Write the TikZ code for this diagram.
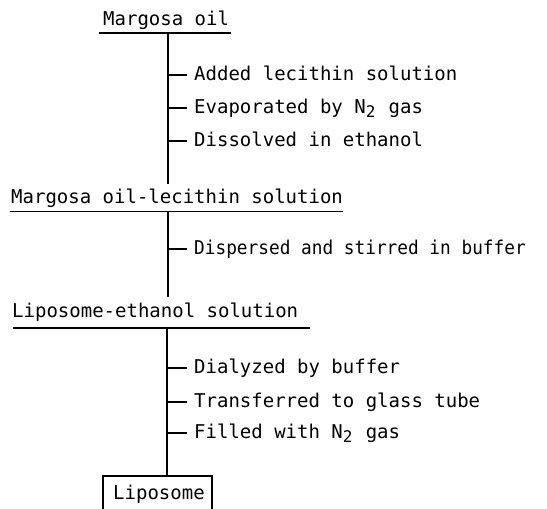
\documentclass[tikz,border=0pt]{standalone}
\usepackage{fontspec}
\newfontfamily\tw{DejaVu Sans Mono}
\newcommand{\Nsub}{N\raisebox{-4.5pt}{\fontsize{16}{16}\selectfont 2}\hspace{1.8pt}}
\begin{document}
\begin{tikzpicture}[x=1pt,y=-1pt,
  lbl/.style={inner sep=0pt,font=\tw\fontsize{19}{22}\selectfont},
  title/.style={lbl,anchor=base west},
  stepnode/.style={lbl,anchor=west,text height=10.4pt,text depth=0pt},
  ln/.style={line width=1.4pt},
  ul/.style={line width=1.6pt}]
\useasboundingbox (0,0) rectangle (547,509);
% titles
\node[title] (m1) at (103,25) {Margosa oil};
\node[title] (m2) at (11,203) {Margosa oil-lecithin solution};
\node[title] (m3) at (12,317) {Liposome-ethanol solution};
\node[lbl,anchor=base west] (lip) at (113,499) {Liposome};
% underlines
\coordinate (u1l) at (99,33);  \coordinate (u1r) at (231,33);
\coordinate (u2l) at (10,211.5); \coordinate (u2r) at (343,211.5);
\coordinate (u3l) at (13,328); \coordinate (u3r) at (310,328);
\draw[ul] (u1l) -- (u1r);
\draw[ul] (u2l) -- (u2r);
\draw[ul] (u3l) -- (u3r);
% box
\coordinate (bxl) at (103,476); \coordinate (bxr) at (212,520);
\draw[ln] (bxl) rectangle (bxr);
% trunks
\coordinate (t1a) at (168,33);  \coordinate (t1b) at (168,184);
\coordinate (t2a) at (168,211.5); \coordinate (t2b) at (168,297);
\coordinate (t3a) at (167,328); \coordinate (t3b) at (167,476);
\draw[ln] (t1a) -- (t1b);
\draw[ln] (t2a) -- (t2b);
\draw[ln] (t3a) -- (t3b);
% steps
\node[stepnode] (s1) at (194,75) {Added lecithin solution};
\node[stepnode] (s2) at (194,108) {Evaporated by \Nsub{} gas};
\node[stepnode] (s3) at (194,141) {Dissolved in ethanol};
\node[stepnode] (s4) at (194,249) {\scalebox{0.935}[1]{Dispersed and stirred in buffer}};
\node[stepnode] (s5) at (194,368) {Dialyzed by buffer};
\node[stepnode] (s6) at (194,402) {Transferred to glass tube};
\node[stepnode] (s7) at (194,433) {Filled with \Nsub{} gas};
\foreach \s in {s1,s2,s3} \draw[ln] (t1a |- \s.west) -- ([xshift=-7pt]\s.west);
\draw[ln] (t2a |- s4.west) -- ([xshift=-7pt]s4.west);
\foreach \s in {s5,s6,s7} \draw[ln] (t3a |- \s.west) -- ([xshift=-7pt]\s.west);
\end{tikzpicture}
\end{document}
